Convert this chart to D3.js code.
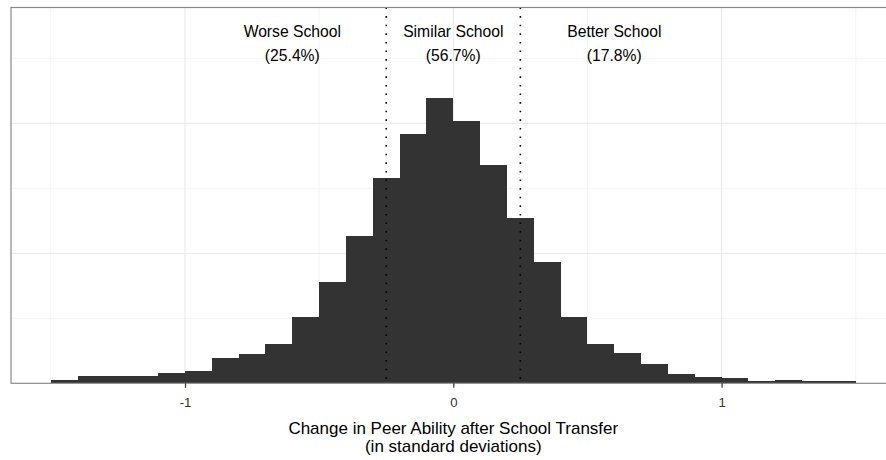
<!DOCTYPE html>
<html>
<head>
<meta charset="utf-8">
<script src="https://cdn.jsdelivr.net/npm/d3@7/dist/d3.min.js"></script>
<style>
  body { margin: 0; background: #fff; }
  text { font-family: "Liberation Sans", Arial, Helvetica, sans-serif; }
</style>
</head>
<body>
<script>
// Histogram bins (left edge) and counts
var binStarts = [-1.5, -1.4, -1.3, -1.2, -1.1, -1.0, -0.9, -0.8, -0.7, -0.6,
                 -0.5, -0.4, -0.3, -0.2, -0.1, 0.0, 0.1, 0.2, 0.3, 0.4,
                 0.5, 0.6, 0.7, 0.8, 0.9, 1.0, 1.1, 1.2, 1.3, 1.4];
var binWidth = 0.1;
var counts = [25, 56, 56, 56, 82, 95, 195, 225, 302, 510,
              779, 1135, 1579, 1917, 2194, 2017, 1679, 1271, 933, 510,
              302, 233, 148, 72, 48, 41, 18, 25, 18, 18];

// Axis ticks / grid
var xTicks = [-1, 0, 1];
var xMinorTicks = [-1.5, -0.5, 0.5, 1.5];
var yTicks = [1000, 2000];
var yMinorTicks = [500, 1500, 2500];

// Cut-offs and group annotations
var cutoffs = [-0.25, 0.25];
var groupNames = ["Worse School", "Similar School", "Better School"];
var groupShares = ["(25.4%)", "(56.7%)", "(17.8%)"];
var groupCenters = [-0.6, 0, 0.6];

var W = 886, H = 460;
var margin = { top: 7.5, left: 11 },
    width = 884.6,
    height = 375.8;

var svg = d3.select("body")
    .append("svg")
    .attr("width", W)
    .attr("height", H);

var g = svg.append("g")
    .attr("transform", "translate(" + margin.left + "," + margin.top + ")");

// Scales
var x = d3.scaleLinear()
    .domain([-1.6485, 1.6485])
    .range([0, width]);

var y = d3.scaleLinear()
    .domain([0, 2891])
    .range([height, 0]);

// Grid: minor first, then major
g.selectAll(".xminor").data(xMinorTicks).enter().append("line")
    .attr("x1", d => x(d)).attr("x2", d => x(d))
    .attr("y1", 0).attr("y2", height)
    .attr("stroke", "#f4f4f4").attr("stroke-width", 1);

g.selectAll(".yminor").data(yMinorTicks).enter().append("line")
    .attr("x1", 0).attr("x2", width)
    .attr("y1", d => y(d)).attr("y2", d => y(d))
    .attr("stroke", "#f4f4f4").attr("stroke-width", 1);

g.selectAll(".xmajor").data(xTicks).enter().append("line")
    .attr("x1", d => x(d)).attr("x2", d => x(d))
    .attr("y1", 0).attr("y2", height)
    .attr("stroke", "#e8e8e8").attr("stroke-width", 1);

g.selectAll(".ymajor").data(yTicks).enter().append("line")
    .attr("x1", 0).attr("x2", width)
    .attr("y1", d => y(d)).attr("y2", d => y(d))
    .attr("stroke", "#e8e8e8").attr("stroke-width", 1);

// Bars
g.selectAll(".bar")
    .data(binStarts)
    .enter().append("rect")
    .attr("class", "bar")
    .attr("x", d => x(d))
    .attr("width", d => x(d + binWidth) - x(d))
    .attr("y", (d, i) => y(counts[i]))
    .attr("height", (d, i) => y(0) - y(counts[i]))
    .attr("fill", "#333333")
    .attr("shape-rendering", "crispEdges");

// Dotted cut-off lines
g.selectAll(".cut").data(cutoffs).enter().append("line")
    .attr("x1", d => x(d)).attr("x2", d => x(d))
    .attr("y1", 0).attr("y2", height)
    .attr("stroke", "#000")
    .attr("stroke-width", 1.6)
    .attr("stroke-dasharray", "1.6,7");

// Panel border
g.append("rect")
    .attr("x", 0).attr("y", 0)
    .attr("width", width).attr("height", height)
    .attr("fill", "none")
    .attr("stroke", "#8a8a8a")
    .attr("stroke-width", 1.2);

// Group labels
groupNames.forEach(function (name, i) {
    g.append("text")
        .attr("x", x(groupCenters[i]))
        .attr("y", 37.3 - margin.top)
        .attr("text-anchor", "middle")
        .style("font-size", "15.7px")
        .attr("fill", "#000")
        .text(name);
    g.append("text")
        .attr("x", x(groupCenters[i]))
        .attr("y", 60.7 - margin.top)
        .attr("text-anchor", "middle")
        .style("font-size", "15.7px")
        .attr("fill", "#000")
        .text(groupShares[i]);
});

// X axis
var xAxis = g.append("g")
    .attr("transform", "translate(0," + height + ")")
    .call(d3.axisBottom(x).tickValues(xTicks).tickSize(4.5).tickFormat(d => String(d)));

xAxis.select(".domain").remove();
xAxis.selectAll(".tick line").attr("stroke", "#333").attr("stroke-width", 1.2);
xAxis.selectAll(".tick text")
    .attr("y", 14)
    .attr("fill", "#333")
    .style("font-size", "13.2px")
    .style("font-family", "'Liberation Sans', Arial, sans-serif");

// X axis title
svg.append("text")
    .attr("x", margin.left + width / 2)
    .attr("y", 434)
    .attr("text-anchor", "middle")
    .style("font-size", "17px")
    .text("Change in Peer Ability after School Transfer");

svg.append("text")
    .attr("x", margin.left + width / 2)
    .attr("y", 452)
    .attr("text-anchor", "middle")
    .style("font-size", "17px")
    .text("(in standard deviations)");
</script>
</body>
</html>
